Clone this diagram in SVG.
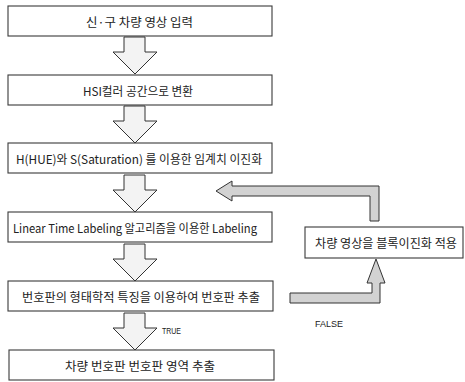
<svg xmlns="http://www.w3.org/2000/svg" width="465" height="382" viewBox="0 0 465 382">
  <style>
    .box { fill: #ffffff; stroke: #3a3a3a; stroke-width: 1.1; }
    .lbl { font-family: "Noto Sans CJK KR", "Liberation Sans", sans-serif; font-size: 12px; fill: #222; text-anchor: middle; dominant-baseline: central; }
    .small { font-family: "Liberation Sans", "Noto Sans", sans-serif; font-size: 9px; fill: #222; }
    .down { fill: #f3f3f3; stroke: #333; stroke-width: 1; stroke-linejoin: miter; }
    .side { fill: #d2d2d2; stroke: #333; stroke-width: 1; }
  </style>
  <rect width="465" height="382" fill="#ffffff"/>

  <g id="connectors">
    <polygon class="down" points="124,37 145,37 145,52 157,52 135,74 113,52 124,52"/>
    <polygon class="down" points="124,106 145,106 145,121 157,121 135,143 113,121 124,121"/>
    <polygon class="down" points="124,175 145,175 145,190 157,190 135,212 113,190 124,190"/>
    <polygon class="down" points="124,244 145,244 145,259 157,259 135,281 113,259 124,259"/>
    <polygon class="down" points="124,313 145,313 145,328 157,328 135,350 113,328 124,328"/>
    <polygon class="side" points="216,191 232,181 232,186 379,186 379,221 370,221 370,196 232,196 232,201"/>
    <polygon class="side" points="290,293 372,293 372,283 367,283 376,259 385,283 380,283 380,303 290,303"/>
    <text class="small" x="162" y="334" textLength="19" lengthAdjust="spacingAndGlyphs">TRUE</text>
    <text class="small" x="315" y="327" textLength="28" lengthAdjust="spacingAndGlyphs">FALSE</text>
  </g>

  <g id="n1">
    <rect class="box" x="8" y="6" width="264" height="30"/>
    <text class="lbl" x="139.5" y="21" textLength="107" lengthAdjust="spacingAndGlyphs">신·구 차량 영상 입력</text>
  </g>
  <g id="n2">
    <rect class="box" x="8" y="75" width="264" height="30"/>
    <text class="lbl" x="138" y="90" textLength="110" lengthAdjust="spacingAndGlyphs">HSI컬러 공간으로 변환</text>
  </g>
  <g id="n3">
    <rect class="box" x="8" y="143" width="264" height="30"/>
    <text class="lbl" x="139" y="158" textLength="246" lengthAdjust="spacingAndGlyphs">H(HUE)와 S(Saturation) 를 이용한 임계치 이진화</text>
  </g>
  <g id="n4">
    <rect class="box" x="8" y="212" width="264" height="30"/>
    <text class="lbl" x="135" y="227" textLength="244" lengthAdjust="spacingAndGlyphs">Linear Time Labeling 알고리즘을 이용한 Labeling</text>
  </g>
  <g id="n5">
    <rect class="box" x="8" y="281" width="265" height="30"/>
    <text class="lbl" x="141" y="296" textLength="238" lengthAdjust="spacingAndGlyphs">번호판의 형태학적 특징을 이용하여 번호판 추출</text>
  </g>
  <g id="n6">
    <rect class="box" x="9" y="350" width="265" height="30"/>
    <text class="lbl" x="140" y="365" textLength="150" lengthAdjust="spacingAndGlyphs">차량 번호판 번호판 영역 추출</text>
  </g>
  <g id="n7">
    <rect class="box" x="305" y="227" width="158" height="31"/>
    <text class="lbl" x="386" y="242.5" textLength="142" lengthAdjust="spacingAndGlyphs">차량 영상을 블록이진화 적용</text>
  </g>
</svg>
